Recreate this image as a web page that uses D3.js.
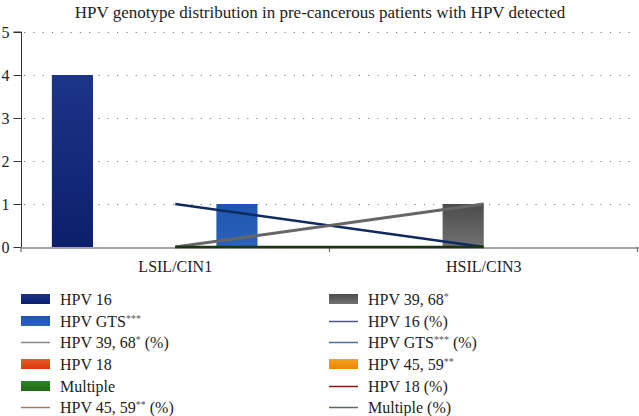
<!DOCTYPE html>
<html><head><meta charset="utf-8">
<script src="https://cdn.jsdelivr.net/npm/d3@7"></script>
<style>body{margin:0;background:#fff}svg{display:block}text{font-family:"Liberation Serif","DejaVu Serif",serif;fill:#222}</style>
</head><body><svg id="c" width="639" height="416"></svg>
<script>
const title = "HPV genotype distribution in pre-cancerous patients with HPV detected";
const categories = ["LSIL/CIN1", "HSIL/CIN3"];
const yTicks = [0, 1, 2, 3, 4, 5];
// bar series (counts), in slot order within each category
const barSeries = ["HPV 16", "HPV 18", "HPV 39, 68*", "Multiple", "HPV GTS***", "HPV 45, 59**"];
const barValues = [[4, 0], [0, 0], [0, 1], [0, 0], [1, 0], [0, 0]];
const barColors = [["#1d3588", "#0c1f6c"], ["#ee5a2a", "#d9380f"], ["#4c4c4c", "#717171"], ["#2f8a24", "#1e6616"], ["#1f55b0", "#2a63bb"], ["#f6a21a", "#e8870a"]];
// line series (%)
const lineSeries = ["HPV 16 (%)", "HPV 39, 68* (%)", "HPV GTS*** (%)", "HPV 18 (%)", "HPV 45, 59** (%)", "Multiple (%)"];
const lineValues = [[1, 0], [0, 1], [0, 0], [0, 0], [0, 0], [0, 0]];
const lineColors = ["#0f2a60", "#666666", "#3e5f9c", "#7a1c10", "#9c7c62", "#1c3512"];
const lineWidths = [2.5, 3, 2, 2, 2, 2.5];
const legendLineColors = ["#4a5a88", "#888888", "#4c6ea6", "#7a1c10", "#9c7c62", "#5c6a5c"];
// legend, row-major, two columns
const legendItems = [
  ["HPV 16", "bar", 0], ["HPV 39, 68*", "bar", 2],
  ["HPV GTS***", "bar", 4], ["HPV 16 (%)", "line", 0],
  ["HPV 39, 68* (%)", "line", 1], ["HPV GTS*** (%)", "line", 2],
  ["HPV 18", "bar", 1], ["HPV 45, 59**", "bar", 5],
  ["Multiple", "bar", 3], ["HPV 18 (%)", "line", 3],
  ["HPV 45, 59** (%)", "line", 4], ["Multiple (%)", "line", 5]
];

const svg = d3.select("#c");
const L = 21, R = 638, T = 32, B = 247;
const x0 = d3.scaleBand().domain(categories).range([L, R]);
const x1 = d3.scaleBand().domain(barSeries).range([0, x0.bandwidth()]).paddingInner(0).paddingOuter(0.75);
const y = d3.scaleLinear().domain([0, 5]).range([B, T]);

const defs = svg.append("defs");
barColors.forEach((c, i) => {
  const g = defs.append("linearGradient").attr("id", "g" + i).attr("x1", 0).attr("y1", 0).attr("x2", 0).attr("y2", 1);
  g.append("stop").attr("offset", "0%").attr("stop-color", c[0]);
  g.append("stop").attr("offset", "100%").attr("stop-color", c[1]);
});

svg.append("text").attr("x", 320).attr("y", 18).attr("text-anchor", "middle").style("font-size", "17px").text(title);

// grid
svg.append("g").selectAll("line").data(yTicks.filter(d => d > 0)).join("line")
  .attr("x1", L + 3).attr("x2", R).attr("y1", d => y(d) + 0.5).attr("y2", d => y(d) + 0.5)
  .attr("stroke", "#777").attr("stroke-width", 1.2).attr("stroke-dasharray", "1.2,8.1");

// y axis
const ya = svg.append("g").attr("transform", `translate(${L + 0.5},0)`)
  .call(d3.axisLeft(y).tickValues(yTicks).tickFormat(d3.format("d")).tickSize(8).tickPadding(4));
ya.attr("font-size", null).attr("font-family", null);
ya.select(".domain").attr("stroke", "#333").attr("d", `M-8,${T}H0V${B}`);
ya.selectAll(".tick line").attr("stroke", "#333");
ya.selectAll(".tick text").style("font-size", "16px").attr("fill", "#222");

// bars
barSeries.forEach((s, i) => {
  svg.append("g").selectAll("rect").data(categories.map((c, j) => ({ c, v: barValues[i][j] }))).join("rect")
    .attr("x", d => x0(d.c) + x1(s)).attr("width", x1.bandwidth())
    .attr("y", d => y(d.v)).attr("height", d => y(0) - y(d.v))
    .attr("fill", `url(#g${i})`);
});

// x axis
const xa = svg.append("g").attr("transform", `translate(0,${B + 0.5})`)
  .call(d3.axisBottom(x0).tickSize(0).tickPadding(13));
xa.attr("font-size", null).attr("font-family", null);
xa.select(".domain").attr("stroke", "#888").attr("stroke-width", 1.5);
xa.selectAll(".tick text").style("font-size", "16px").attr("fill", "#222");
const bounds = [L, x0(categories[1]), R - 0.5];
svg.append("g").selectAll("line").data(bounds).join("line")
  .attr("x1", d => d).attr("x2", d => d).attr("y1", B).attr("y2", B + 5).attr("stroke", "#666").attr("stroke-width", 1.2);

// lines
const cx = c => x0(c) + x0.bandwidth() / 2;
lineSeries.forEach((s, i) => {
  const ln = d3.line().x(d => cx(d.c)).y(d => y(d.v));
  svg.append("path").datum(categories.map((c, j) => ({ c, v: lineValues[i][j] })))
    .attr("d", ln).attr("fill", "none").attr("stroke", lineColors[i]).attr("stroke-width", lineWidths[i]);
});

// legend
const rowY = [299, 321, 342, 364, 386, 407];
const colX = [21, 329];
const lg = svg.append("g");
legendItems.forEach((it, k) => {
  const r = Math.floor(k / 2), c = k % 2;
  const gx = colX[c], gy = rowY[r];
  if (it[1] === "bar") {
    lg.append("rect").attr("x", gx).attr("y", gy - 5).attr("width", 29).attr("height", 10).attr("fill", `url(#g${it[2]})`);
  } else {
    lg.append("line").attr("x1", gx).attr("x2", gx + 29).attr("y1", gy + 0.5).attr("y2", gy + 0.5)
      .attr("stroke", legendLineColors[it[2]]).attr("stroke-width", 1.5);
  }
  const t = lg.append("text").attr("x", gx + 39).attr("y", gy + 5.5).style("font-size", "16px");
  const m = it[0].match(/^(.*?)(\*+)(.*)$/);
  if (m) {
    t.append("tspan").text(m[1]);
    t.append("tspan").style("font-size", "10px").attr("dy", -5).attr("fill", "#555").text(m[2]);
    if (m[3]) t.append("tspan").attr("dy", 5).text(m[3]);
  } else t.text(it[0]);
});
</script></body></html>
